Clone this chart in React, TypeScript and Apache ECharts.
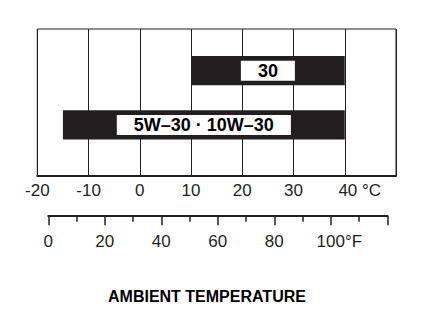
import React, { useEffect, useRef } from "react";
import * as echarts from "echarts";

// Oil viscosity grades and their ambient temperature ranges (°C)
const grades = ["5W\u201330 \u00b7 10W\u201330", "30"];
const lowTemps = [-15, 10];
const highTemps = [40, 40];

// Celsius axis
const celsiusMin = -20;
const celsiusMax = 50;
const celsiusStep = 10;
const celsiusUnitTick = 40;

// Fahrenheit axis
const fahrenheitMin = 0;
const fahrenheitMax = 120;
const fahrenheitStep = 20;
const fahrenheitUnitTick = 100;

const axisTitle = "AMBIENT TEMPERATURE";

const INK = "#231f20";
const FONT = "'Liberation Sans', Arial, Helvetica, sans-serif";

export default function App() {
  const ref = useRef<HTMLDivElement>(null);

  useEffect(() => {
    if (!ref.current) return;
    const chart = echarts.init(ref.current, undefined, { renderer: "svg" });

    const data = grades.map((g, i) => [i, lowTemps[i], highTemps[i]]);

    const labelStyle = { fontSize: 17, color: INK, fontFamily: FONT };

    chart.setOption({
      animation: false,
      backgroundColor: "#fff",
      title: {
        text: axisTitle,
        left: 103,
        top: 283,
        textStyle: { fontSize: 16, fontWeight: "bold", color: "#000", fontFamily: FONT },
      },
      grid: [
        { left: 37.3, right: 32, top: 29, height: 147, show: true, borderColor: INK, borderWidth: 1, backgroundColor: "transparent" },
        { left: 37.3, right: 32, top: 43.6, height: 108.4 },
        { left: 48.3, right: 40.7, top: 205, height: 10.7 },
      ],
      xAxis: [
        {
          gridIndex: 0,
          type: "value",
          min: celsiusMin,
          max: celsiusMax,
          interval: celsiusStep,
          axisLine: { show: true, onZero: false, lineStyle: { color: INK, width: 2 } },
          axisTick: { show: false },
          splitLine: { show: true, lineStyle: { color: INK, width: 1 } },
          axisLabel: {
            margin: 6,
            ...labelStyle,
            formatter: (v: number) => {
              if (v === celsiusMax) return "";
              if (v === celsiusUnitTick) return `{u|${v} \u00b0C}`;
              return String(v);
            },
            rich: {
              u: { ...labelStyle, padding: [0, 0, 0, 30] },
            },
          },
        },
        { gridIndex: 1, type: "value", min: celsiusMin, max: celsiusMax, show: false },
        {
          gridIndex: 2,
          type: "value",
          min: fahrenheitMin,
          max: fahrenheitMax,
          interval: fahrenheitStep,
          axisLine: { show: true, onZero: false, lineStyle: { color: INK, width: 2 } },
          axisTick: { show: true, length: 9.5, lineStyle: { color: INK, width: 1.5 } },
          minorTick: { show: true, splitNumber: 2, length: 6, lineStyle: { color: INK, width: 1.5 } },
          splitLine: { show: false },
          axisLabel: {
            margin: 17,
            ...labelStyle,
            formatter: (v: number) => {
              if (v === fahrenheitMax) return "";
              if (v === fahrenheitUnitTick) return `{u|${v}\u00b0F}`;
              return String(v);
            },
            rich: {
              u: { ...labelStyle, padding: [0, 0, 0, 17] },
            },
          },
        },
      ],
      yAxis: [
        { gridIndex: 0, type: "value", show: false, min: 0, max: 1 },
        { gridIndex: 1, type: "category", data: grades, show: false },
        { gridIndex: 2, type: "value", show: false, min: 0, max: 1 },
      ],
      series: [
        {
          type: "custom",
          xAxisIndex: 1,
          yAxisIndex: 1,
          encode: { x: [1, 2], y: 0 },
          data,
          renderItem: (params: any, api: any) => {
            const yi = api.value(0);
            const s = api.coord([api.value(1), yi]);
            const e = api.coord([api.value(2), yi]);
            const h = api.size([0, 1])[1] * 0.54;
            const cx = (s[0] + e[0]) / 2;
            return {
              type: "group",
              children: [
                {
                  type: "rect",
                  shape: { x: s[0], y: s[1] - h / 2, width: e[0] - s[0], height: h },
                  style: { fill: INK },
                },
                {
                  type: "text",
                  x: cx,
                  y: s[1],
                  style: {
                    text: grades[params.dataIndex],
                    fill: "#000",
                    fontSize: 18,
                    fontWeight: "bold",
                    fontFamily: FONT,
                    align: "center",
                    verticalAlign: "middle",
                    backgroundColor: "#fff",
                    padding: [1, 17],
                    lineHeight: 18,
                  },
                },
              ],
            };
          },
        },
      ],
    });

    return () => chart.dispose();
  }, []);

  return (
    <div
      ref={ref}
      style={{ position: "absolute", left: 0, top: 0, width: 428, height: 323 }}
    />
  );
}
